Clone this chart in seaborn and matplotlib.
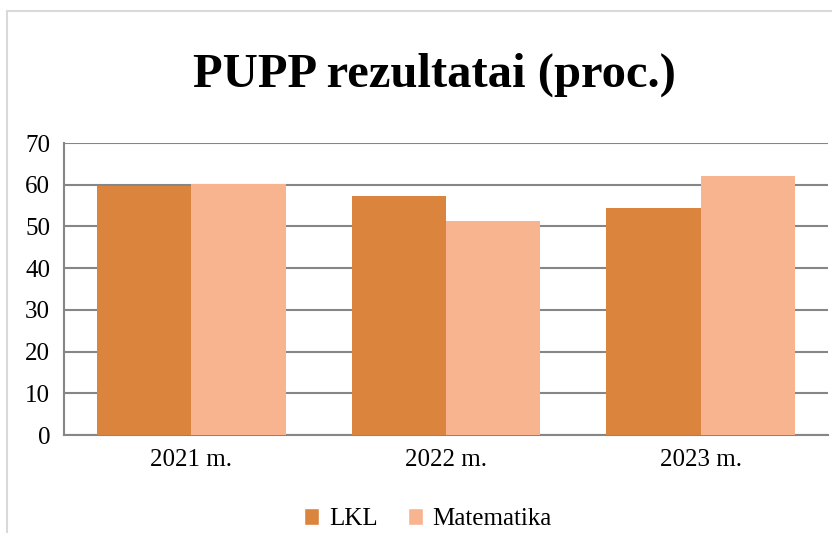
import pandas as pd
import matplotlib.pyplot as plt
import seaborn as sns
from matplotlib.patches import Rectangle, Patch

# data
years = ['2021 m.', '2022 m.', '2023 m.']
lkl = [59.8, 57.4, 54.5]
matematika = [60.2, 51.4, 62.2]
series = ['LKL', 'Matematika']
colors = ['#DB843D', '#F8B48F']

df = pd.DataFrame({
    'Metai': years * 2,
    'Dalykas': ['LKL'] * 3 + ['Matematika'] * 3,
    'Proc': lkl + matematika,
})

sns.set_style('white')
plt.rcParams['font.family'] = ['Liberation Serif', 'DejaVu Serif']
plt.rcParams['text.color'] = 'black'

fig = plt.figure(figsize=(8.32, 5.33), dpi=100)
ax = fig.add_axes([64 / 832, 1 - 435 / 533, (828 - 64) / 832, (435 - 143) / 533])

sns.barplot(data=df, x='Metai', y='Proc', hue='Dalykas', palette=colors,
            width=0.74, saturation=1, linewidth=0, ax=ax, legend=False, zorder=3)

ax.set_ylim(0, 70)
ax.set_xlim(-0.5, 2.5)
ax.set_yticks(range(0, 71, 10))
ax.yaxis.grid(True, color='#868686', linewidth=1.5, zorder=0)
ax.set_axisbelow(True)
for s in ['top', 'right']:
    ax.spines[s].set_visible(False)
for s in ['left', 'bottom']:
    ax.spines[s].set_color('#868686')
    ax.spines[s].set_linewidth(1.5)
ax.tick_params(axis='both', length=0, labelsize=18, colors='black', pad=10)
ax.tick_params(axis='x', pad=10)
ax.set_xlabel('')
ax.set_ylabel('')

fig.text(434 / 832, 1 - 75 / 533, 'PUPP rezultatai (proc.)', ha='center', va='center',
         fontsize=35, fontweight='bold', color='black')

handles = [Patch(facecolor=c, label=l) for c, l in zip(colors, series)]
fig.legend(handles=handles, loc='center', bbox_to_anchor=(428 / 832, 1 - 519 / 533),
           ncol=2, frameon=False, fontsize=18, handlelength=0.6, handleheight=0.7,
           handletextpad=0.4, columnspacing=1.2)

# outer chart frame
fig.patches.append(Rectangle((7 / 832, -0.1), 1.0, 1 - 11 / 533 + 0.1,
                             transform=fig.transFigure, fill=False,
                             edgecolor='#D9D9D9', linewidth=1.5))

fig.savefig('out.png', dpi=100)
